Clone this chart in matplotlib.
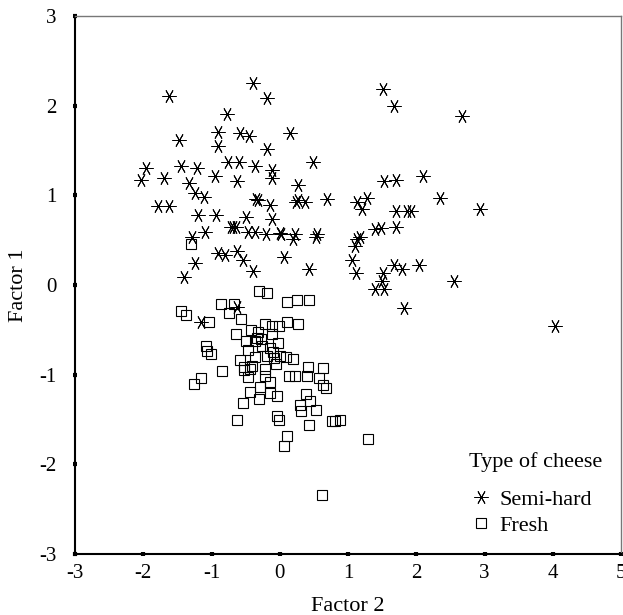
import numpy as np
from matplotlib import pyplot as plt

plt.rc('font', family='Liberation Serif')
plt.rc('axes', unicode_minus=False)

# Semi-hard cheese (factor 2, factor 1)
semi_x = [-0.39, -1.63, -0.18, 1.52, 1.68, 2.67, -0.78, -0.91, -0.58, -0.45,
          0.15, -1.48, -0.90, -0.18, 0.48, -0.76, -0.59, -0.37, -1.45, -1.96,
          -1.21, -0.11, -2.04, -1.69, -0.95, -0.63, -0.12, 0.26, -1.33, -1.24,
          -1.11, -1.79, -1.63, -0.35, -0.14, 0.24, 0.27, 0.37, 0.69, 1.13,
          1.28, 1.20, 1.53, 1.71, 2.10, 2.35, 2.94, 1.71, 1.86, 1.93,
          -1.20, -0.93, -0.49, -0.11, -0.72, -0.64, -1.09, -0.46, -0.37, -0.20,
          0.00, 0.22, 0.19, 0.54, 0.53, -1.29, 1.13, 1.17, 1.10, 1.40,
          1.48, 1.71, -0.90, -0.80, -0.62, -0.54, 0.06, -1.24, -0.39, 0.43,
          1.06, 1.12, -1.41, 1.51, 1.68, 1.79, 2.04, 2.56, 1.39, 1.53,
          1.50, 1.82, 4.04, -0.63, -1.16, -0.32, 0.02, -0.68]
semi_y = [2.25, 2.11, 2.09, 2.19, 2.00, 1.89, 1.91, 1.71, 1.69, 1.66,
          1.69, 1.62, 1.55, 1.52, 1.37, 1.37, 1.37, 1.33, 1.33, 1.31,
          1.30, 1.28, 1.17, 1.19, 1.21, 1.16, 1.19, 1.12, 1.14, 1.03,
          0.98, 0.88, 0.88, 0.96, 0.89, 0.92, 0.95, 0.93, 0.96, 0.92,
          0.97, 0.85, 1.16, 1.17, 1.21, 0.97, 0.85, 0.83, 0.83, 0.83,
          0.78, 0.78, 0.76, 0.74, 0.65, 0.65, 0.59, 0.59, 0.59, 0.57,
          0.58, 0.57, 0.51, 0.57, 0.53, 0.53, 0.51, 0.54, 0.44, 0.62,
          0.64, 0.65, 0.36, 0.33, 0.38, 0.28, 0.31, 0.24, 0.16, 0.18,
          0.28, 0.13, 0.09, 0.13, 0.22, 0.18, 0.22, 0.04, -0.05, -0.05,
          0.04, -0.26, -0.46, -0.24, -0.41, 0.95, 0.57, 0.65]

# Fresh cheese
fresh_x = [-1.30, -0.30, -0.19, -0.86, -0.67, -0.75, 0.11, 0.25, 0.43, -1.45,
           -1.38, -1.03, -0.57, 0.11, 0.27, -0.64, -0.42, -0.21, -0.11, -0.01,
           -0.50, -0.33, -0.46, -0.14, -0.02, -1.08, -1.07, -1.01, -0.58, -0.37,
           -0.18, -0.08, 0.00, 0.09, 0.19, -0.84, -0.52, -0.43, -0.21, 0.42,
           0.64, 0.14, 0.22, 0.40, 0.58, 0.63, 0.68, -1.16, -1.25, -0.14,
           -0.29, -0.44, -0.31, -0.14, -0.04, -0.54, 0.29, 0.31, 0.39, 0.44,
           0.53, -0.62, -0.04, -0.01, 0.43, 0.77, 0.81, 0.88, 0.11, 0.06,
           1.30, 0.62, -0.32, -0.26, -0.37, -0.52, -0.46, -0.22, -0.06, -0.28,
           -0.12, -0.40, -0.10]
fresh_y = [0.46, -0.07, -0.09, -0.21, -0.21, -0.31, -0.19, -0.17, -0.17, -0.29,
           -0.33, -0.41, -0.38, -0.41, -0.43, -0.55, -0.50, -0.44, -0.46, -0.46,
           -0.63, -0.59, -0.72, -0.70, -0.65, -0.68, -0.74, -0.77, -0.84, -0.80,
           -0.79, -0.81, -0.79, -0.80, -0.82, -0.96, -0.95, -0.94, -0.94, -0.91,
           -0.93, -1.01, -1.02, -1.01, -1.04, -1.12, -1.15, -1.04, -1.10, -1.08,
           -1.14, -1.19, -1.27, -1.21, -1.24, -1.32, -1.34, -1.41, -1.22, -1.29,
           -1.39, -1.51, -1.46, -1.51, -1.56, -1.52, -1.52, -1.51, -1.68, -1.80,
           -1.72, -2.34, -0.52, -0.68, -0.63, -0.92, -1.03, -1.02, -0.88, -0.60,
           -0.55, -0.90, -0.75]

fig = plt.figure(figsize=(6.23, 6.15), dpi=100)
ax = fig.add_axes([0.1204, 0.0992, 0.8764, 0.8748])

star = (6, 2, 90)
ax.plot(semi_x, semi_y, ls='', marker=star, ms=10, mew=0.7, color='black',
        label='Semi-hard')
ax.plot(fresh_x, fresh_y, ls='', marker='s', ms=7.5, mew=0.8, mfc='none',
        mec='black', label='Fresh')

ax.set_xlim(-3, 5)
ax.set_ylim(-3, 3)
ax.set_xticks(np.arange(-3, 6))
ax.set_yticks(np.arange(-3, 4))
ax.tick_params(direction='inout', length=3, width=3, labelsize=15)
ax.tick_params(axis='x', pad=6)
ax.tick_params(axis='y', pad=12)

for side in ['left', 'bottom']:
    ax.spines[side].set_linewidth(1.5)
for side in ['top', 'right']:
    ax.spines[side].set_linewidth(1)
    ax.spines[side].set_color('#777777')

ax.set_xlabel('Factor 2', fontsize=16, labelpad=10)
ax.set_ylabel('Factor 1', fontsize=16, labelpad=8)

# legend title drawn on its own, the gap below it is wider than between rows
ax.text(0.7216, 0.171, 'Type of cheese', transform=ax.transAxes,
        fontsize=16, va='center', ha='left')
leg = ax.legend(loc='upper left', bbox_to_anchor=(0.704, 0.141),
                frameon=False, fontsize=16, handlelength=0.9,
                handletextpad=0.4, labelspacing=0.25, borderpad=0)

plt.savefig('out.png', dpi=100)
